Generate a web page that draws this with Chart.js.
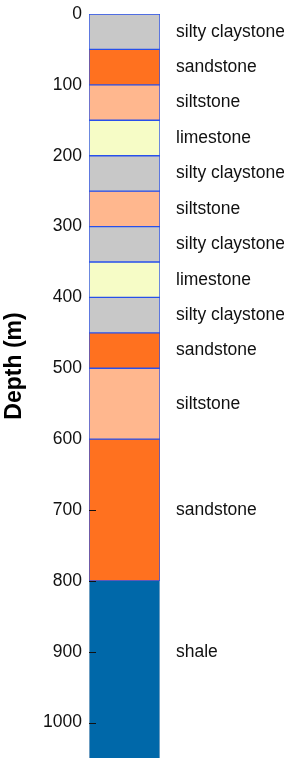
<!DOCTYPE html>
<html>
<head>
<meta charset="utf-8">
<script src="https://cdn.jsdelivr.net/npm/chart.js@4"></script>
<style>
  html, body { margin: 0; padding: 0; background: #fff; }
  #wrap { width: 284px; height: 758px; }
</style>
</head>
<body>
<div id="wrap"><canvas id="c" width="284" height="758"></canvas></div>
<script>
// lithology column: top / bottom depth (m) for each layer
const layerNames  = ['silty claystone', 'sandstone', 'siltstone', 'limestone', 'silty claystone', 'siltstone',
                     'silty claystone', 'limestone', 'silty claystone', 'sandstone', 'siltstone', 'sandstone', 'shale'];
const layerTops   = [0, 50, 100, 150, 200, 250, 300, 350, 400, 450, 500, 600, 800];
const layerBottoms= [50, 100, 150, 200, 250, 300, 350, 400, 450, 500, 600, 800, 1050];
const labelDepths = [25, 75, 125, 175, 225, 275, 325, 375, 425, 475, 550, 700, 900];
const depthTicks  = [0, 100, 200, 300, 400, 500, 600, 700, 800, 900, 1000];
const innerTicks  = [700, 800, 900, 1000];

const rockColors = {
  'silty claystone': '#c8c8c8',
  'sandstone': '#ff711f',
  'siltstone': '#ffb78e',
  'limestone': '#f6fcc6',
  'shale': '#0068a9'
};

const FONT = "'Liberation Sans', Arial, sans-serif";

const datasets = layerNames.map(function (name, i) {
  const isShale = name === 'shale';
  return {
    label: name,
    data: [[layerTops[i], layerBottoms[i]]],
    backgroundColor: rockColors[name],
    borderColor: isShale ? 'rgba(150,175,200,0.9)' : 'rgb(40,80,235)',
    borderWidth: isShale ? { left: 1, right: 1, top: 0, bottom: 0 } : 1,
    borderSkipped: false,
    barPercentage: 1,
    categoryPercentage: 1,
    grouped: false,
    yAxisID: 'y'
  };
});

// inward tick marks on top of the column + the axis title
const extrasPlugin = {
  id: 'extras',
  afterDatasetsDraw(chart) {
    const ctx = chart.ctx, ys = chart.scales.y, left = chart.chartArea.left;
    ctx.save();
    ctx.strokeStyle = '#111';
    ctx.lineWidth = 1;
    innerTicks.forEach(function (v) {
      const py = Math.round(ys.getPixelForValue(v)) + 0.5;
      ctx.beginPath();
      ctx.moveTo(left, py);
      ctx.lineTo(left + 7, py);
      ctx.stroke();
    });
    // y title, a bit above the middle like the original
    ctx.translate(15, 366);
    ctx.rotate(-Math.PI / 2);
    ctx.fillStyle = '#000';
    ctx.font = 'bold 23px ' + FONT;
    ctx.textAlign = 'center';
    ctx.textBaseline = 'middle';
    ctx.fillText('Depth (m)', 0, 0);
    ctx.restore();
  }
};

function noPad(s, w) {
  s.width = w;
  s.paddingTop = 0;
  s.paddingBottom = 0;
}

new Chart(document.getElementById('c'), {
  type: 'bar',
  data: { labels: ['column'], datasets: datasets },
  plugins: [extrasPlugin],
  options: {
    responsive: false,
    animation: false,
    layout: { padding: { top: 14, bottom: 0, left: 0, right: 0 } },
    plugins: { legend: { display: false }, tooltip: { enabled: false } },
    scales: {
      x: { display: false, stacked: false },
      y: {
        position: 'left',
        reverse: true,
        min: 0,
        max: 1050,
        afterBuildTicks: function (s) { s.ticks = depthTicks.map(function (v) { return { value: v }; }); },
        afterFit: function (s) { noPad(s, 89); },
        grid: { display: false, drawTicks: false },
        border: { display: false },
        ticks: {
          color: '#111',
          padding: 7,
          font: { family: FONT, size: 17.5 },
          callback: function (v) { return String(v); }
        }
      },
      y2: {
        position: 'right',
        reverse: true,
        min: 0,
        max: 1050,
        afterBuildTicks: function (s) { s.ticks = labelDepths.map(function (v) { return { value: v }; }); },
        afterFit: function (s) { noPad(s, 124); },
        grid: { display: false, drawTicks: false },
        border: { display: false },
        ticks: {
          color: '#111',
          padding: 16,
          autoSkip: false,
          font: { family: FONT, size: 17.5 },
          callback: function (v, i) { return layerNames[i]; }
        }
      }
    }
  }
});
</script>
</body>
</html>
